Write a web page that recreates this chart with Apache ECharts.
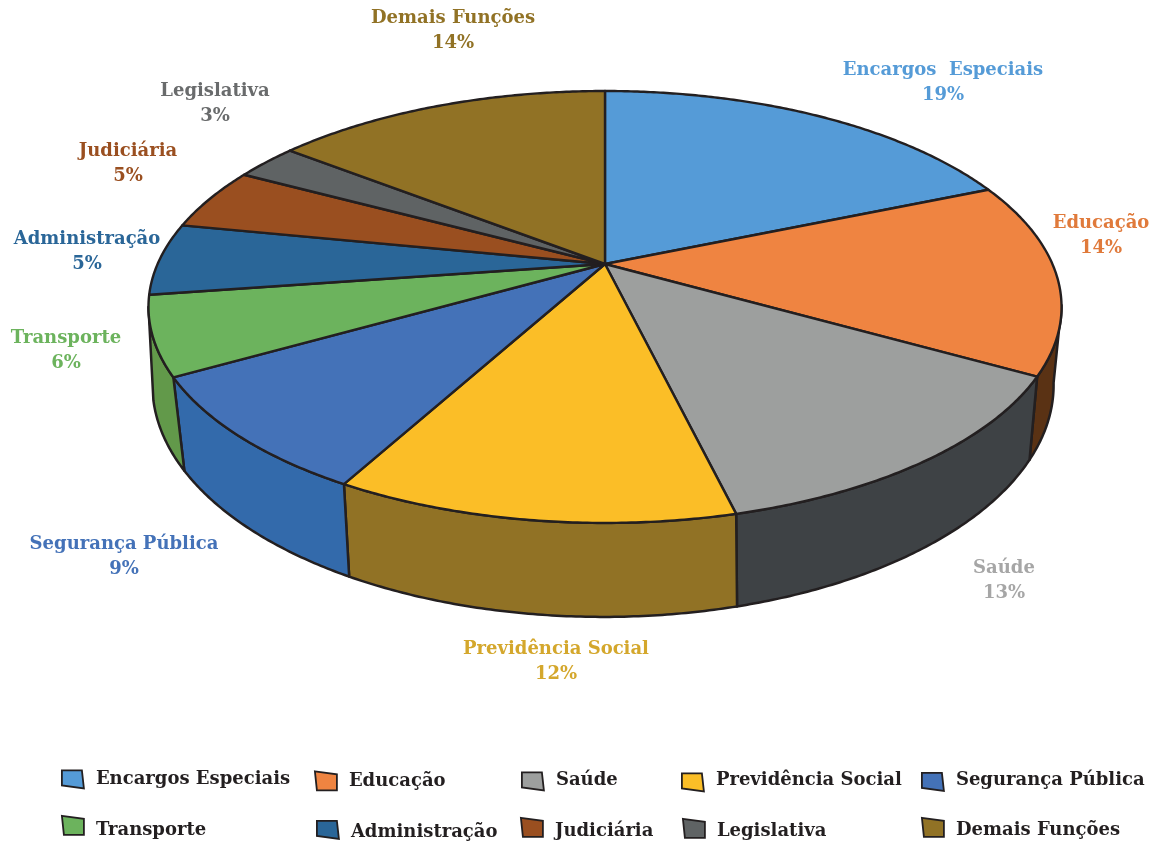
<!DOCTYPE html>
<html>
<head>
<meta charset="utf-8">
<style>
html,body{margin:0;padding:0;background:#fff}
#chart{width:1154px;height:843px}
</style>
<script src="https://cdn.jsdelivr.net/npm/echarts@6/dist/echarts.min.js"></script>
</head>
<body>
<div id="chart"></div>
<script>
var categories = ['Encargos Especiais', 'Educação', 'Saúde', 'Previdência Social', 'Segurança Pública', 'Transporte', 'Administração', 'Judiciária', 'Legislativa', 'Demais Funções'];
var shares = [18.7, 14.45, 13.05, 11.8, 8.8, 5.9, 5.4, 4.7, 2.7, 14.5];
var percentLabels = [19, 14, 13, 12, 9, 6, 5, 5, 3, 14];

var topColors = ['#559bd7', '#ef8441', '#9d9f9e', '#fbbe27', '#4472b8', '#6cb35d', '#2a6698', '#9a4f20', '#5f6364', '#917225'];
var wallColors = ['#3f78ad', '#5a3214', '#3e4245', '#917225', '#336aab', '#62994a', '#1f4e75', '#6b3716', '#45484a', '#6b551b'];
var labelColors = ['#559bd7', '#e07a3b', '#a6a6a6', '#d4a72c', '#4472b8', '#6cb35d', '#2a6698', '#9a4f20', '#696b6c', '#917225'];
// label text as printed, the chart has a double space in this one
var labelNames = ['Encargos  Especiais', 'Educação', 'Saúde', 'Previdência Social', 'Segurança Pública', 'Transporte', 'Administração', 'Judiciária', 'Legislativa', 'Demais Funções'];
var labelPos = [[943, 83], [1101, 236], [1004, 581], [556, 662], [124, 557], [66, 351], [87, 252], [128, 164], [215, 104], [453, 31]];

// legend: left edge of icon, centre of the text line, icon type, how far the icon sits above the text
var legendLeft = [61, 314, 521, 681, 921, 61, 316, 520, 682, 921];
var legendMid = [779, 780, 780, 780, 780, 829, 831, 830, 830, 829];
var legendType = ['A', 'B', 'A', 'A', 'A', 'B', 'A', 'B', 'B', 'B'];
var legendRaise = [0, 0, -1, -2, -1.5, 4.5, 1.5, 3.5, 2.5, 2.5];

var INK = '#231f20';
// top face is a circle seen in perspective
var cx = 605, cy = 264, pa = 447.4, pb = 207.4, pk = 0.199;
var RIGHT_EDGE = 101, LEFT_EDGE = 258.5;

function topPoint(deg) {
  var t = deg * Math.PI / 180, u = Math.sin(t), v = Math.cos(t), d = 1 + pk * v;
  return [cx + pa * u / d, cy - pb * v / d];
}
function bottomPoint(deg) {
  // the seams lean a little towards the front on the left hand side
  var lean = 0.5 * Math.min(1, Math.max(0, (deg - 120) / 30)) + Math.max(0, deg - 210) * 0.065;
  var p = topPoint(deg - lean);
  return [603.5 + (p[0] - 605.5) * 0.987, 385 + (p[1] - 307) * 1.074];
}
function arc(fn, from, to) {
  var pts = [], n = Math.max(2, Math.ceil(Math.abs(to - from) / 0.5));
  for (var i = 0; i <= n; i++) pts.push(fn(from + (to - from) * i / n));
  return pts;
}
// icon is a small skewed quad, a stray moveto widens its box so it can sit off the text line
function legendIcon(type, raise) {
  var pts = type === 'A' ? [[0, 0], [20, 0], [22, 18], [0, 15]] : [[0, 0], [22, 3], [22, 19], [2, 19]];
  var dy = raise < 0 ? -2 * raise : 0;
  var d = pts.map(function (p, k) { return (k ? 'L' : 'M') + p[0] + ' ' + (p[1] + dy); }).join('') + 'Z';
  var far = raise > 0 ? 19 + 2 * raise : 0;
  return 'path://' + d + 'M22 ' + far + 'L22 ' + far;
}

var total = shares.reduce(function (a, b) { return a + b; }, 0);
var acc = 0;
var series = categories.map(function (name, i) {
  var start = acc / total * 360;
  acc += shares[i];
  var end = acc / total * 360;
  return {
    type: 'custom',
    name: name,
    coordinateSystem: 'none',
    silent: true,
    itemStyle: { color: topColors[i] },
    data: [[start, end, percentLabels[i]]],
    renderItem: function (params, api) {
      var a = api.value(0), b = api.value(1), kids = [];
      var wa = Math.max(a, RIGHT_EDGE), wb = Math.min(b, LEFT_EDGE);
      if (wb > wa) {
        kids.push({
          type: 'polygon', z2: 1,
          shape: { points: arc(topPoint, wa, wb).concat(arc(bottomPoint, wb, wa)) },
          style: { fill: wallColors[i], stroke: INK, lineWidth: 2.5, lineJoin: 'round' }
        });
      }
      kids.push({
        type: 'polygon', z2: 2,
        shape: { points: [[cx, cy]].concat(arc(topPoint, a, b)) },
        style: { fill: topColors[i], stroke: INK, lineWidth: 2.4, lineJoin: 'round' }
      });
      kids.push({
        type: 'text', z2: 3,
        x: labelPos[i][0], y: labelPos[i][1],
        style: {
          text: labelNames[i] + '\n' + api.value(2) + '%',
          fill: labelColors[i], align: 'center', verticalAlign: 'middle',
          font: 'bold 18px "DejaVu Serif"', lineHeight: 24.5
        }
      });
      return { type: 'group', children: kids };
    }
  };
});

var legends = categories.map(function (name, i) {
  var h = 19 + 2 * Math.abs(legendRaise[i]);
  return {
    data: [name],
    left: legendLeft[i], top: legendMid[i] - h / 2,
    orient: 'horizontal',
    padding: 0,
    itemWidth: 22, itemHeight: h,
    icon: legendIcon(legendType[i], legendRaise[i]),
    selectedMode: false,
    itemStyle: { borderColor: INK, borderWidth: 1.8 },
    textStyle: { color: INK, fontFamily: 'DejaVu Serif', fontWeight: 'bold', fontSize: 18, padding: [0, 0, 0, 7] }
  };
});

var chart = echarts.init(document.getElementById('chart'), null, { renderer: 'canvas' });
chart.setOption({
  animation: false,
  backgroundColor: '#fff',
  legend: legends,
  series: series
});
</script>
</body>
</html>
